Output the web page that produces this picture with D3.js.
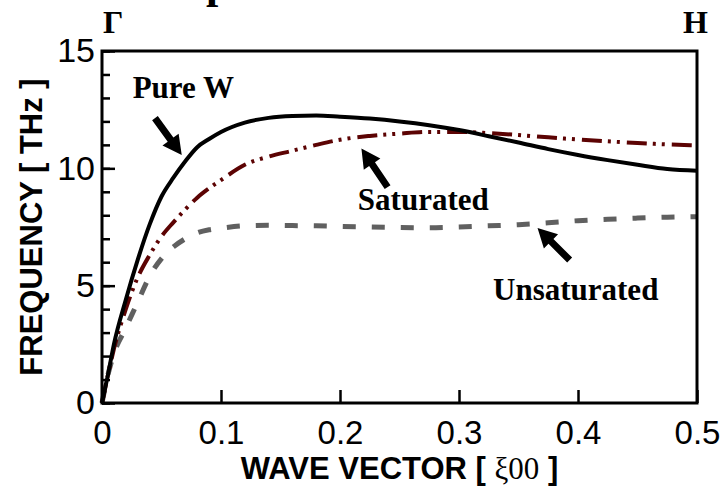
<!DOCTYPE html>
<html>
<head>
<meta charset="utf-8">
<script src="https://cdn.jsdelivr.net/npm/d3@7"></script>
<style>
  body { margin: 0; background: #fff; }
  svg { display: block; }
</style>
</head>
<body>
<svg></svg>
<script>
let width = 725;
let height = 489;

// wave vector positions (xi 0 0)
const waveVector = [0, 0.005, 0.01, 0.02, 0.03, 0.04, 0.05, 0.06, 0.07, 0.08, 0.09, 0.1,
  0.12, 0.14, 0.16, 0.18, 0.2, 0.225, 0.25, 0.275, 0.3, 0.325, 0.35, 0.375, 0.4,
  0.425, 0.45, 0.475, 0.5];

// frequencies in THz
const pureW = [0, 1.2, 2.5, 4.4, 6.1, 7.6, 8.8, 9.6, 10.3, 10.9, 11.25, 11.55,
  11.95, 12.15, 12.23, 12.25, 12.2, 12.12, 12.0, 11.84, 11.63, 11.37, 11.1, 10.82, 10.57,
  10.35, 10.15, 9.97, 9.9];
const saturated = [0, 1.2, 2.3, 4.0, 5.35, 6.3, 7.1, 7.7, 8.25, 8.75, 9.15, 9.5,
  10.15, 10.5, 10.75, 11.0, 11.22, 11.38, 11.48, 11.55, 11.55, 11.5, 11.42, 11.32, 11.23,
  11.15, 11.08, 11.02, 10.98];
const unsaturated = [0, 1.2, 2.1, 3.2, 4.3, 5.4, 6.15, 6.65, 7.0, 7.25, 7.38, 7.45,
  7.55, 7.57, 7.56, 7.55, 7.52, 7.5, 7.48, 7.47, 7.5, 7.55, 7.6, 7.68, 7.77,
  7.83, 7.88, 7.92, 7.94];

const xTicks = [0, 0.1, 0.2, 0.3, 0.4, 0.5];
const yTicks = [0, 5, 10, 15];
const yMinor = d3.range(0, 16, 1);

const margin = {top: 51, right: 28, bottom: 86, left: 102};

const x = d3.scaleLinear()
  .domain([0, 0.5])
  .range([margin.left, width - margin.right]);

const y = d3.scaleLinear()
  .domain([0, 15])
  .range([height - margin.bottom, margin.top]);

const svg = d3.select("svg")
  .attr("width", width)
  .attr("height", height);

svg.append("rect")
  .attr("width", width)
  .attr("height", height)
  .attr("fill", "#fff");

const series = [
  {name: "Unsaturated", values: unsaturated, color: "#606060", width: 5, dash: "13,16"},
  {name: "Saturated", values: saturated, color: "#5c0303", width: 4, dash: "20,6,3,6,3,7"},
  {name: "Pure W", values: pureW, color: "#000", width: 4, dash: null}
];

const line = d3.line()
  .x((d, i) => x(waveVector[i]))
  .y(d => y(d))
  .curve(d3.curveMonotoneX);

svg.append("g")
  .selectAll("path")
  .data(series)
  .join("path")
  .attr("d", d => line(d.values))
  .attr("fill", "none")
  .attr("stroke", d => d.color)
  .attr("stroke-width", d => d.width)
  .attr("stroke-dasharray", d => d.dash);

// axes, ticks pointing inwards
const xAxis = svg.append("g")
  .attr("transform", `translate(0,${y(0)})`)
  .call(d3.axisBottom(x).tickValues(xTicks).tickSize(-13).tickPadding(0).tickFormat(d3.format("~g")));

const yAxisMinor = svg.append("g")
  .attr("transform", `translate(${x(0)},0)`)
  .call(d3.axisLeft(y).tickValues(yMinor).tickSize(-8).tickFormat(""));

const yAxis = svg.append("g")
  .attr("transform", `translate(${x(0)},0)`)
  .call(d3.axisLeft(y).tickValues(yTicks).tickSize(-13).tickFormat(d3.format("d")));

[xAxis, yAxis, yAxisMinor].forEach(a => {
  a.select(".domain").remove();
  a.selectAll(".tick line").attr("stroke", "#000").attr("stroke-width", 2.5);
});

xAxis.selectAll(".tick text")
  .attr("y", 18)
  .attr("dy", "0.71em")
  .style("font-family", "'Liberation Sans', Arial, sans-serif")
  .style("font-size", "33px")
  .attr("fill", "#000");

yAxis.selectAll(".tick text")
  .attr("x", -7)
  .style("font-family", "'Liberation Sans', Arial, sans-serif")
  .style("font-size", "34px")
  .attr("fill", "#000");

// frame
svg.append("rect")
  .attr("x", x(0))
  .attr("y", y(15))
  .attr("width", x(0.5) - x(0))
  .attr("height", y(0) - y(15))
  .attr("fill", "none")
  .attr("stroke", "#000")
  .attr("stroke-width", 3);

// axis titles
svg.append("text")
  .attr("x", (x(0) + x(0.5)) / 2)
  .attr("y", 479)
  .attr("text-anchor", "middle")
  .style("font-family", "'Liberation Sans', Arial, sans-serif")
  .style("font-weight", "bold")
  .style("font-size", "31px")
  .html("WAVE VECTOR [ <tspan style='font-family: \"Liberation Serif\", serif; font-weight: normal'>ξ00</tspan> ]");

svg.append("text")
  .attr("transform", `translate(42,${(y(0) + y(15)) / 2}) rotate(-90)`)
  .attr("text-anchor", "middle")
  .style("font-family", "'Liberation Sans', Arial, sans-serif")
  .style("font-weight", "bold")
  .style("font-size", "31px")
  .text("FREQUENCY [ THz ]");

// symmetry points
const serif = "'Liberation Serif', 'Times New Roman', serif";
svg.append("text")
  .attr("x", x(0) + 1)
  .attr("y", 33)
  .style("font-family", serif)
  .style("font-weight", "bold")
  .style("font-size", "32px")
  .text("Γ");

svg.append("text")
  .attr("x", x(0.5) + 11)
  .attr("y", 33)
  .attr("text-anchor", "end")
  .style("font-family", serif)
  .style("font-weight", "bold")
  .style("font-size", "32px")
  .text("H");

// bit of a cut-off title at the very top
svg.append("text")
  .attr("x", 206)
  .attr("y", -2)
  .style("font-family", serif)
  .style("font-weight", "bold")
  .style("font-size", "44px")
  .text("p");

// annotations: label + arrow (tail -> tip), in data units
const notes = [
  {label: "Pure W", lx: 0.0258, ly: 12.98, tail: [0.0445, 12.14], tip: [0.067, 10.57]},
  {label: "Saturated", lx: 0.215, ly: 8.22, tail: [0.240, 9.2], tip: [0.218, 10.85]},
  {label: "Unsaturated", lx: 0.3286, ly: 4.39, tail: [0.393, 6.09], tip: [0.366, 7.46]}
];

svg.append("g")
  .selectAll("text")
  .data(notes)
  .join("text")
  .attr("x", d => x(d.lx))
  .attr("y", d => y(d.ly))
  .style("font-family", serif)
  .style("font-weight", "bold")
  .style("font-size", "31px")
  .text(d => d.label);

function arrowPath(d) {
  const x0 = x(d.tail[0]), y0 = y(d.tail[1]);
  const x1 = x(d.tip[0]), y1 = y(d.tip[1]);
  const len = Math.hypot(x1 - x0, y1 - y0);
  const ux = (x1 - x0) / len, uy = (y1 - y0) / len;
  const px = -uy, py = ux;
  const head = 19, hw = 10, sw = 3.5;
  const bx = x1 - ux * head, by = y1 - uy * head;
  const pts = [
    [x0 + px * sw, y0 + py * sw],
    [bx + px * sw, by + py * sw],
    [bx + px * hw, by + py * hw],
    [x1, y1],
    [bx - px * hw, by - py * hw],
    [bx - px * sw, by - py * sw],
    [x0 - px * sw, y0 - py * sw]
  ];
  return "M" + pts.map(p => p.join(",")).join("L") + "Z";
}

svg.append("g")
  .selectAll("path")
  .data(notes)
  .join("path")
  .attr("d", arrowPath)
  .attr("fill", "#000");
</script>
</body>
</html>
